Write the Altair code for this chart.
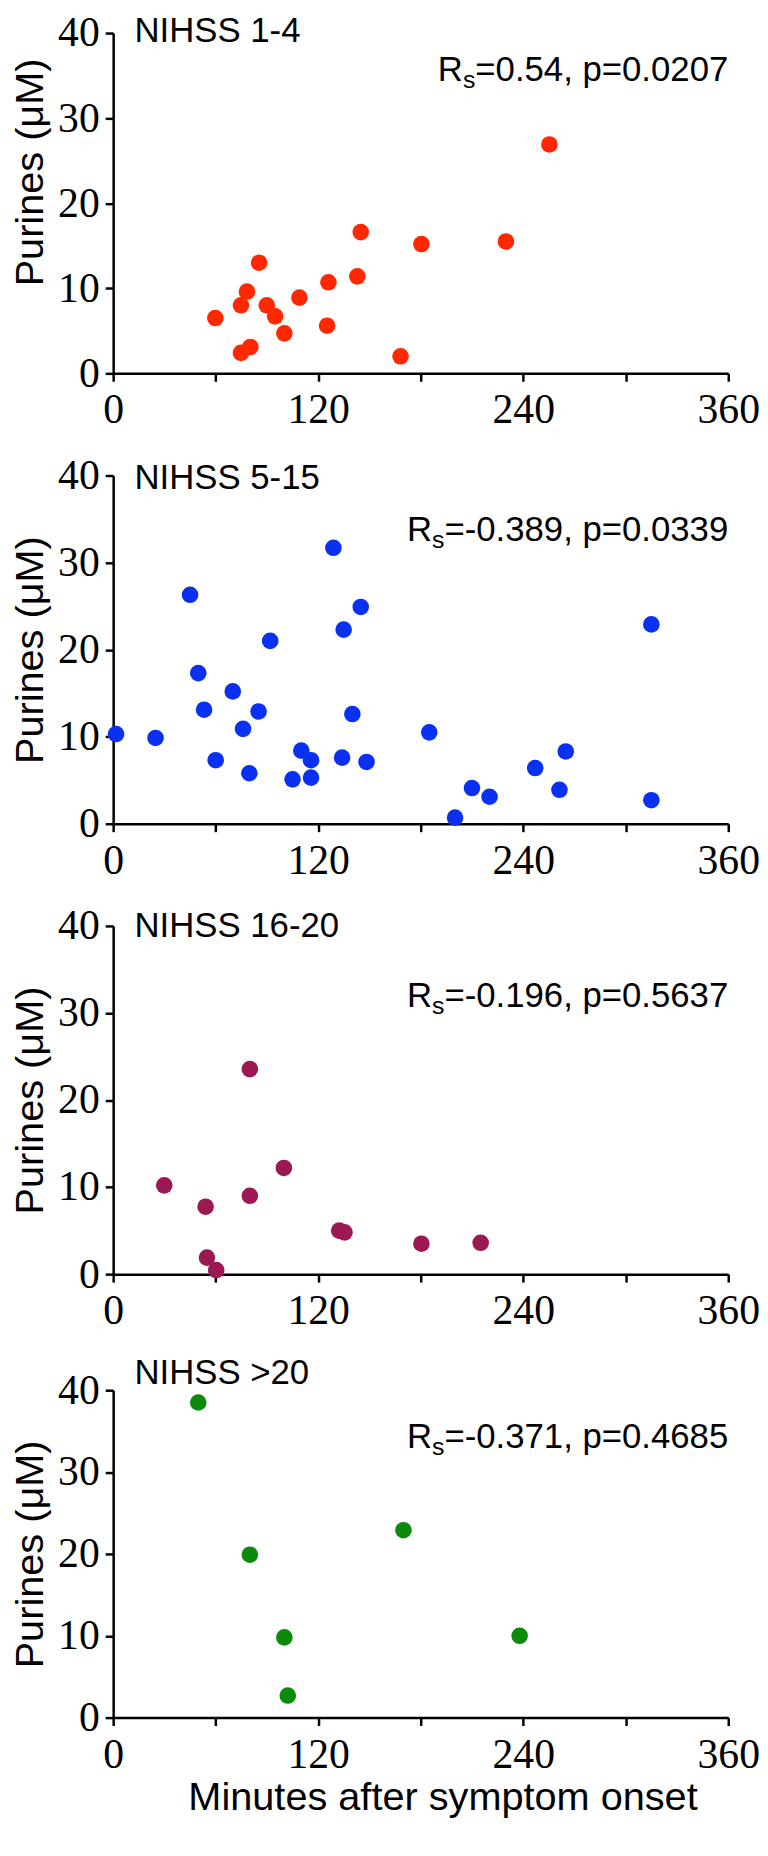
import altair as alt
import pandas as pd

FONT = "Liberation Sans"
TICK_FONT = "Liberation Sans Narrow"

# ---- data ----
p1_minutes = [59.8, 74.8, 78.3, 85.4, 74.8, 80.3, 89.9, 94.8, 100.2, 109.0, 126.0, 125.2,
              142.9, 144.9, 168.2, 180.4, 229.9, 255.3]
p1_purines = [6.5, 8.0, 9.6, 13.0, 2.4, 3.1, 8.0, 6.7, 4.7, 8.9, 10.7, 5.6,
              11.4, 16.6, 2.0, 15.2, 15.5, 26.9]

p2_minutes = [1.7, 24.8, 45.0, 49.8, 53.2, 60.0, 70.0, 76.0, 79.7, 85.1, 91.9, 105.0,
              110.1, 115.8, 115.8, 128.9, 134.0, 134.9, 140.0, 144.9, 148.3, 185.0,
              200.1, 210.0, 220.3, 247.0, 261.2, 264.9, 315.0, 315.0]
p2_purines = [10.3, 9.85, 26.3, 17.3, 13.1, 7.3, 15.2, 10.9, 5.8, 12.9, 21.0, 5.1,
              8.4, 7.3, 5.3, 31.7, 7.6, 22.3, 12.6, 24.9, 7.1, 10.5,
              0.7, 4.1, 3.1, 6.4, 3.9, 8.3, 22.9, 2.7]

p3_minutes = [29.9, 54.1, 54.9, 60.3, 80.0, 80.0, 99.9, 132.3, 135.4, 180.4, 215.1]
p3_purines = [10.2, 7.75, 1.9, 0.46, 23.55, 9.0, 12.2, 5.0, 4.8, 3.5, 3.6]

p4_minutes = [49.8, 80.0, 100.2, 102.2, 169.9, 237.9]
p4_purines = [38.5, 19.9, 9.8, 2.7, 22.9, 10.0]

minutes = [p1_minutes, p2_minutes, p3_minutes, p4_minutes]
purines = [p1_purines, p2_purines, p3_purines, p4_purines]

panel_titles = ["NIHSS 1-4", "NIHSS 5-15", "NIHSS 16-20", "NIHSS >20"]
stat_texts = ["=0.54, p=0.0207", "=-0.389, p=0.0339", "=-0.196, p=0.5637", "=-0.371, p=0.4685"]
colors = ["#ff2800", "#0a30f2", "#9b1853", "#0c8a0c"]

x_ticks = [0, 60, 120, 180, 240, 300, 360]
y_ticks = [0, 10, 20, 30, 40]
y_title = "Purines (μM)"
x_title = "Minutes after symptom onset"

# annotation anchor positions (data units)
title_pos_x = 12.5
stat_pos_x = 360
title_pos_y = [38.95, 38.4, 38.7, 40.7]
stat_pos_y = [34.4, 32.5, 30.7, 32.9]
# panel box heights and the pixel range the 0..40 scale occupies inside each box
heights = [343, 351, 351, 344]
y_ranges = [[343, 0], [351, 0], [351, 0], [344, 14]]
WIDTH = 620

# Arial/Liberation advance widths (em) for offsetting the subscript
ADV = {c: 0.556 for c in "0123456789p"}
ADV.update({"=": 0.584, "-": 0.333, ".": 0.278, ",": 0.278, " ": 0.278})
STAT_FS = 35
SUB_FS = 25


def text_w(s, fs):
    return sum(ADV.get(c, 0.556) for c in s) * fs


def make_panel(i):
    n = len(minutes[i])
    df = pd.DataFrame({
        "min": list(minutes[i]) + [title_pos_x, stat_pos_x],
        "pur": list(purines[i]) + [title_pos_y[i], stat_pos_y[i]],
        "kind": ["pt"] * n + ["title", "stat"],
        "txt": [""] * n + [panel_titles[i], stat_texts[i]],
    })
    last = i == 3
    xaxis_kw = dict(values=x_ticks,
                    labelExpr="datum.value % 120 === 0 ? datum.label : ''",
                    labelFlush=False, labelOverlap=False, labelPadding=9)
    if last:
        xaxis_kw.update(titleX=332, titlePadding=3)
    yaxis_kw = dict(values=y_ticks, labelPadding=6, titlePadding=7,
                    labelOverlap=False, labelFlush=False)
    if i == 0:
        yaxis_kw.update(titleY=140)
    if i == 3:
        yaxis_kw.update(titleY=179)

    xenc = alt.X("min:Q", scale=alt.Scale(domain=[0, 360], nice=False, zero=False),
                 axis=alt.Axis(**xaxis_kw), title=(x_title if last else None))
    yenc = alt.Y("pur:Q", scale=alt.Scale(domain=[0, 40], nice=False, range=y_ranges[i]),
                 axis=alt.Axis(**yaxis_kw), title=y_title)
    base = alt.Chart(df).encode(x=xenc, y=yenc)

    pts = base.transform_filter(alt.datum.kind == "pt").mark_circle(
        size=280, opacity=1, color=colors[i])
    ttl = base.transform_filter(alt.datum.kind == "title").mark_text(
        align="left", baseline="alphabetic", fontSize=35, font=FONT, color="black"
    ).encode(text="txt:N")
    main_w = text_w(stat_texts[i], STAT_FS)
    st = base.transform_filter(alt.datum.kind == "stat").mark_text(
        align="right", baseline="alphabetic", fontSize=STAT_FS, font=FONT, color="black"
    ).encode(text="txt:N")
    sub = base.transform_filter(alt.datum.kind == "stat").mark_text(
        align="right", baseline="alphabetic", fontSize=SUB_FS, font=FONT, color="black",
        dx=-main_w, dy=7
    ).encode(text=alt.value("s"))
    rr = base.transform_filter(alt.datum.kind == "stat").mark_text(
        align="right", baseline="alphabetic", fontSize=STAT_FS, font=FONT, color="black",
        dx=-(main_w + 0.5 * SUB_FS)
    ).encode(text=alt.value("R"))
    return alt.layer(pts, ttl, st, sub, rr).properties(width=WIDTH, height=heights[i])


panels = [make_panel(i) for i in range(4)]
chart = alt.vconcat(*panels, spacing=103, bounds="flush").properties(
    padding={"top": -3, "left": 3, "right": 0, "bottom": 0}
).configure_view(stroke=None).configure_axis(
    domainColor="black", domainWidth=2.5, tickColor="black", tickWidth=2.5, tickSize=8,
    grid=False, labelFont=TICK_FONT, labelFontSize=42, labelColor="black",
    titleFont=FONT, titleFontSize=40, titleFontWeight="normal", titleColor="black"
)

chart.save("out.html", embed_options={"renderer": "svg", "actions": False})
